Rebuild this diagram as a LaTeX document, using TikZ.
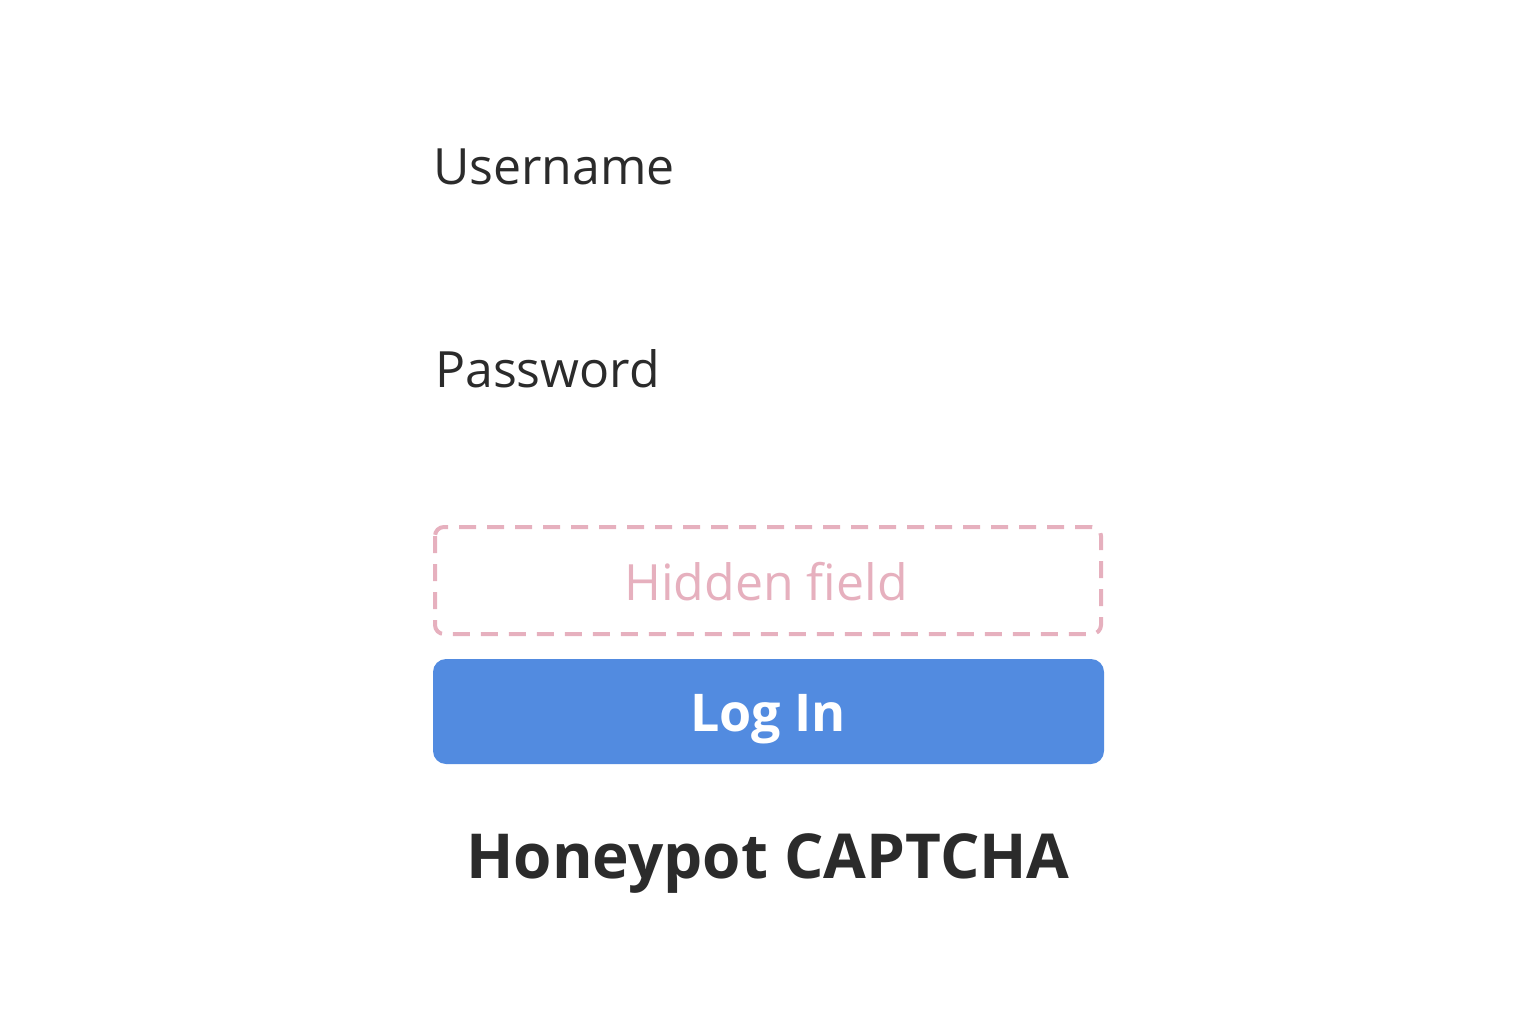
\documentclass[tikz,border=0pt]{standalone}
\usepackage{fontspec}
\setmainfont{Open Sans}
\begin{document}
\begin{tikzpicture}[x=1pt,y=-1pt,
  lbl/.style={anchor=base west,inner sep=0pt,text=textgray,font=\fontsize{50}{60}\selectfont},
]
\definecolor{textgray}{HTML}{2B2B2B}
\definecolor{pinkc}{HTML}{E6B0BE}
\definecolor{bluec}{HTML}{528BE0}
\useasboundingbox (0,0) rectangle (1536,1024);
\node[lbl] (user) at (433,185) {Username};
\node[lbl] (pass) at (435,387) {Password};
\draw[pinkc,line width=4,dash pattern=on 17 off 11,rounded corners=9] (435,527) rectangle (1101,634);
\node[anchor=base,inner sep=0pt,text=pinkc,font=\fontsize{50}{60}\selectfont] (hid) at (766,600) {Hidden field};
\fill[bluec,rounded corners=13] (433,659) rectangle (1104,764);
\node[anchor=base,inner sep=0pt,text=white,font=\fontsize{52}{60}\selectfont\bfseries] (login) at (768,731) {Log In};
\node[anchor=base,inner sep=0pt,text=textgray,font=\fontsize{62}{70}\selectfont\bfseries] (title) at (768,878) {Honeypot CAPTCHA};
\end{tikzpicture}
\end{document}
